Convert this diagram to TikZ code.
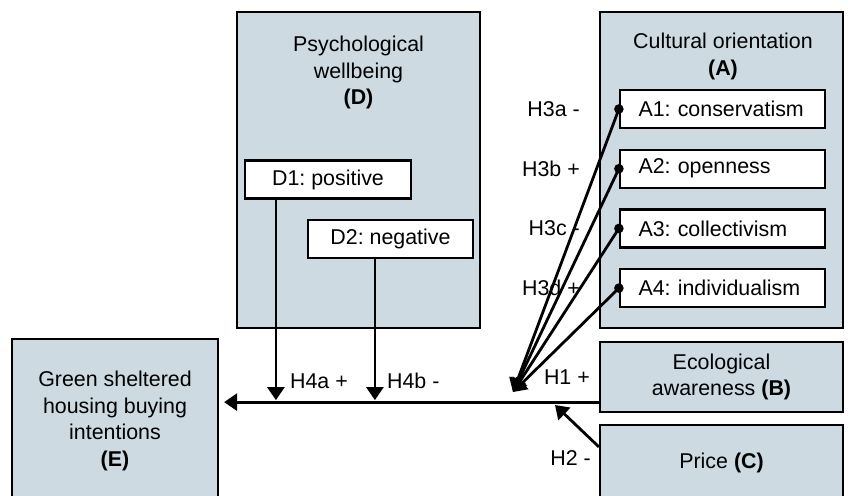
\documentclass[tikz,border=0pt]{standalone}
\usepackage{fontspec}
\setmainfont{Liberation Sans}
\usetikzlibrary{positioning, chains, calc, arrows.meta}
\definecolor{panelfill}{RGB}{205,218,226}
\tikzset{
every picture/.style={
line width=1.1pt
}}

\begin{document}
\begin{tikzpicture}[x=0.5pt, y=-0.5pt,
font=\fontsize{10.7}{13.2}\selectfont\frenchspacing,
panel/.style = {rectangle, draw=black, fill=panelfill, align=center},
item/.style = {rectangle, draw=black, fill=white, minimum height=19pt, inner ysep=0pt},
link/.style = {line width=1.4pt, -{Triangle[width=8.5pt, length=6.5pt]}},
hyp/.style = {inner sep=0pt},
node distance = 9.75pt,
start chain= a going below]

  \useasboundingbox (0,0) rectangle (850,495);
  \clip (0,0) rectangle (850,495);

  \node[panel, minimum width=121.5pt, minimum height=158pt] (D) at (358.5,170) {};
  \node[panel, minimum width=121.5pt, minimum height=158pt] (A) at (721.5,170) {};
  \node[panel, minimum width=121.5pt, minimum height=35pt] (B) at (721.5,377) {Ecological\\awareness \textbf{(B)}};
  \node[panel, minimum width=121.5pt, minimum height=38pt] (C) at (721.5,463) {Price \textbf{(C)}};
  \node[panel, minimum width=103pt, minimum height=82pt] (E) at (115,421) {Green sheltered\\housing buying\\intentions\\\textbf{(E)}};

  \node[hyp, anchor=north, align=center] (Dtitle) at (358.5,35) {Psychological\\wellbeing\\\textbf{(D)}};
  \node[hyp, anchor=north, align=center] (Atitle) at (723,32) {Cultural orientation\\\textbf{(A)}};

  \node[item, minimum width=83pt] (D1) at (328,179.5) {D1: positive};
  \node[item, minimum width=82.5pt] (D2) at (390.5,239) {D2: negative};

  \node[item, text width=84pt, align=left, inner xsep=9.25pt, on chain] at (722.5,109) {A1: conservatism};
  \node[item, text width=84pt, align=left, inner xsep=9.25pt, on chain] {A2: openness};
  \node[item, text width=84pt, align=left, inner xsep=9.25pt, on chain] {A3: collectivism};
  \node[item, text width=84pt, align=left, inner xsep=9.25pt, on chain] {A4: individualism};

  \node[hyp, left=19pt of a-1] (h3a) {H3a -};
  \node[hyp, left=19pt of a-2] (h3b) {H3b +};
  \node[hyp, left=19pt of a-3] (h3c) {H3c -};
  \node[hyp, left=19pt of a-4] (h3d) {H3d +};
  \node[hyp, left=4pt of B] (h1) {H1 +};
  \node[hyp, left=3.5pt of C, yshift=2.5pt] (h2) {H2 -};
  \node[hyp, anchor=west] (h4a) at (289,381) {H4a +};
  \node[hyp, anchor=west] (h4b) at (386,381) {H4b -};

  \coordinate (conv) at (513,392);
  \draw[link] (a-1.west) -- (conv);
  \draw[link] (a-2.west) -- (conv);
  \draw[link] (a-3.west) -- (conv);
  \draw[link] (a-4.west) -- (conv);
  \fill (a-1.west) circle (2.4pt);
  \fill (a-2.west) circle (2.4pt);
  \fill (a-3.west) circle (2.4pt);
  \fill (a-4.west) circle (2.4pt);

  \coordinate (bl) at ($(B.south west)+(0,-11)$);
  \draw[link, shorten >=2.5pt] (bl) -- (bl -| E.east);

  \coordinate (d1) at ($(D1.south west)+(32,0)$);
  \draw[link, shorten >=1pt] (d1) -- (d1 |- bl);
  \coordinate (d2) at ($(D2.south west)+(68,0)$);
  \draw[link, shorten >=1pt] (d2) -- (d2 |- bl);

  \coordinate (c1) at ($(C.north west)+(0,23)$);
  \coordinate (h2tip) at (555,405);
  \draw[link] (c1) -- (h2tip);

\end{tikzpicture}
\end{document}
